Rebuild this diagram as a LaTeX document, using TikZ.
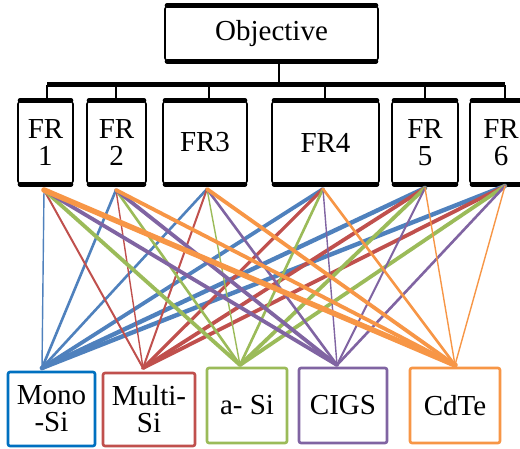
\documentclass[tikz,border=0pt]{standalone}
\usepackage{fontspec}
\setmainfont{Liberation Serif}
\definecolor{cblue}{HTML}{4F81BD}
\definecolor{cred}{HTML}{C0504D}
\definecolor{cgreen}{HTML}{9BBB59}
\definecolor{cpurple}{HTML}{8064A2}
\definecolor{corange}{HTML}{F79646}
\definecolor{cmono}{HTML}{0070C0}
\begin{document}
\begin{tikzpicture}[x=1pt,y=-1pt,
  hbox/.style={draw, line width=1.6pt, rounded corners=4pt, fill=white, inner sep=0pt, align=center,
    font=\fontsize{29}{27}\selectfont},
  matbox/.style={draw, line width=2.6pt, rounded corners=2pt, fill=white, inner sep=0pt, align=center,
    font=\fontsize{29}{27}\selectfont},
  treeline/.style={line width=1.6pt},
  barline/.style={line width=5pt},
  edge/.style={line width=5pt, line cap=round},
  conn/.style={line cap=round}
]
\clip (0,0) rectangle (520,449);
\fill[white] (0,0) rectangle (520,449);

% tree
\coordinate (stem) at (279,62);
\coordinate (bl) at (47,85);
\coordinate (br) at (505,85);
\coordinate (d1) at (47,85);
\coordinate (d2) at (116,85);
\coordinate (d3) at (209,85);
\coordinate (d4) at (325,85);
\coordinate (d5) at (425,85);
\coordinate (d6) at (505,85);

\node[hbox, minimum width=213pt, minimum height=57pt] (obj) at (271.5,33.5) {Objective};
\node[hbox, minimum width=55pt, minimum height=85pt] (f1) at (45.5,142.5) {FR\\1};
\node[hbox, minimum width=59pt, minimum height=85pt] (f2) at (116.5,142.5) {FR\\2};
\node[hbox, minimum width=84pt, minimum height=85pt] (f3) at (205,142.5) {FR3};
\node[hbox, minimum width=107pt, minimum height=85pt] (f4) at (325.5,142.5) {FR4};
\node[hbox, minimum width=66pt, minimum height=85pt] (f5) at (425,142.5) {FR\\5};
\node[hbox, minimum width=62pt, minimum height=85pt] (f6) at (501,142.5) {FR\\6};

\draw[treeline] (stem) -- (stem |- bl);
\draw[barline] (bl) -- (br);
\foreach \i in {1,...,6} {
  \draw[treeline] (d\i) -- (d\i |- f\i.north);
}
\foreach \n in {obj,f1,f2,f3,f4,f5,f6} {
  \draw[edge] ([xshift=3pt,yshift=-1pt]\n.north west) -- ([xshift=-3pt,yshift=-1pt]\n.north east);
  \draw[edge] ([xshift=3pt,yshift=1.5pt]\n.south west) -- ([xshift=-3pt,yshift=1.5pt]\n.south east);
}

% materials
\node[matbox, draw=cmono, minimum width=87pt, minimum height=74pt] (m1) at (51.5,409) {Mono\\-Si};
\node[matbox, draw=cred, minimum width=92pt, minimum height=73pt] (m2) at (149,409.5) {Multi-\\Si};
\node[matbox, draw=cgreen, minimum width=80pt, minimum height=75pt] (m3) at (247,405.5) {a- Si};
\node[matbox, draw=cpurple, minimum width=88pt, minimum height=75pt] (m4) at (343,405.5) {CIGS};
\node[matbox, draw=corange, minimum width=90pt, minimum height=75pt] (m5) at (455,405.5) {CdTe};

% connector anchors
\coordinate (t1) at (44,190);
\coordinate (t2) at (116,190);
\coordinate (t3) at (207,189);
\coordinate (t4) at (323,189);
\coordinate (t5) at (425,188);
\coordinate (t6) at (505,186);
\coordinate (b1) at (42,368);
\coordinate (b2) at (143,368);
\coordinate (b3) at (240,365);
\coordinate (b4) at (337,365);
\coordinate (b5) at (455,365);

\foreach \t/\w in {1/1.4,2/2.6,3/2.6,4/3.8,5/4.4,6/4.4}
  \draw[conn, cblue, line width=\w pt] (t\t) -- (b1);
\foreach \t/\w in {1/2,2/1.4,3/2,4/3.2,5/3.8,6/3.8}
  \draw[conn, cred, line width=\w pt] (t\t) -- (b2);
\foreach \t/\w in {1/3.8,2/2.6,3/1.4,4/2.6,5/3.8,6/3.8}
  \draw[conn, cgreen, line width=\w pt] (t\t) -- (b3);
\foreach \t/\w in {1/3.8,2/3.8,3/2.6,4/1.4,5/2,6/2.6}
  \draw[conn, cpurple, line width=\w pt] (t\t) -- (b4);
\foreach \t/\w in {1/5.5,2/3.8,3/3.8,4/2.6,5/1.4,6/1.4}
  \draw[conn, corange, line width=\w pt] (t\t) -- (b5);
\end{tikzpicture}
\end{document}
